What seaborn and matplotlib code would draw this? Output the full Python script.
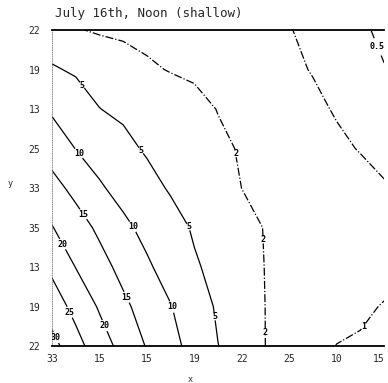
import numpy as np
import matplotlib
matplotlib.use("Agg")
import matplotlib.pyplot as plt
import seaborn as sns

# grid coordinates (half steps across, whole steps up)
x_vals = [0, 0.5, 1, 1.5, 2, 2.5, 3, 3.5, 4, 4.5, 5, 5.5, 6, 6.5, 7]
y_vals = [0, 1, 2, 3, 4, 5, 6, 7, 8]

# field values, bottom row first
row_0 = [31.7, 26.7, 22.3, 18.4, 14.7, 11.5, 8.3, 5.05, 3.5, 1.99, 1.66, 1.32, 0.98, 0.90, 0.80]
row_1 = [27.6, 23.5, 19.5, 16.0, 13.0, 10.2, 7.0, 4.5, 3.2, 1.98, 1.77, 1.56, 1.36, 1.15, 0.95]
row_2 = [24.0, 19.9, 16.7, 13.6, 10.7, 8.0, 5.4, 4.0, 2.85, 1.95, 1.85, 1.75, 1.60, 1.45, 1.30]
row_3 = [20.2, 17.1, 14.1, 11.1, 8.6, 6.4, 4.6, 3.6, 2.5, 1.93, 1.80, 1.70, 1.50, 1.35, 1.20]
row_4 = [16.6, 13.7, 10.6, 8.3, 6.2, 4.64, 3.7, 2.83, 1.99, 1.83, 1.67, 1.50, 1.35, 1.20, 1.03]
row_5 = [13.0, 9.9, 7.9, 5.9, 4.6, 3.8, 3.05, 2.28, 1.88, 1.69, 1.50, 1.31, 1.11, 0.97, 0.90]
row_6 = [9.3, 7.2, 5.05, 4.4, 3.75, 3.1, 2.47, 1.95, 1.74, 1.53, 1.33, 1.12, 0.95, 0.87, 0.80]
row_7 = [5.4, 4.5, 3.76, 3.0, 2.27, 1.9, 1.74, 1.58, 1.43, 1.27, 1.11, 0.97, 0.85, 0.70, 0.52]
row_8 = [2.6, 2.15, 1.75, 1.6, 1.5, 1.42, 1.34, 1.26, 1.18, 1.10, 1.02, 0.89, 0.77, 0.58, 0.40]

levels = [0.5, 1, 2, 5, 10, 15, 20, 25, 30]

x_ticks = [0, 1, 2, 3, 4, 5, 6, 7]
x_labels = ["33", "15", "15", "19", "22", "25", "10", "15"]
y_labels = ["22", "19", "13", "35", "33", "25", "13", "19", "22"]  # bottom to top

# where the contour labels sit
label_spots = [(0.59, 6.56), (1.81, 4.89), (2.85, 2.99), (3.39, 0.73),
               (0.65, 4.96), (1.69, 3.01), (2.53, 0.99),
               (0.70, 3.37), (1.58, 1.24),
               (0.27, 2.61), (1.14, 0.53),
               (0.38, 0.86), (0.06, 0.2),
               (3.73, 4.84), (4.32, 2.68), (4.45, 0.35),
               (6.75, 7.54), (6.39, 0.66)]

z = np.array([row_0, row_1, row_2, row_3, row_4, row_5, row_6, row_7, row_8])

sns.set_style("white")
plt.rcParams["font.family"] = ["DejaVu Sans Mono", "DejaVu Sans"]

fig = plt.figure(figsize=(3.88, 3.83), dpi=100)
ax = fig.add_axes([0.134, 0.0966, 0.856, 0.825])

styles = ["dashdot" if lv < 3 else "solid" for lv in levels]
cs = ax.contour(x_vals, y_vals, z, levels=levels, colors="black",
                linewidths=0.9, linestyles=styles)
texts = ax.clabel(cs, fmt="%g", fontsize=6, inline=True, inline_spacing=1,
                  manual=label_spots)
for t in texts:
    t.set_rotation(0)
    t.set_fontweight("bold")

ax.set_xlim(0, 7)
ax.set_ylim(0, 8)
ax.set_xticks(x_ticks)
ax.set_xticklabels(x_labels, fontsize=7)
ax.get_xticklabels()[-1].set_horizontalalignment("right")
ax.set_yticks(y_vals)
ax.set_yticklabels(y_labels, fontsize=7)
ax.tick_params(axis="y", direction="out", length=1.5, width=1.5, pad=7)
ax.tick_params(axis="x", length=0, pad=6)

for side in ["top", "bottom"]:
    ax.spines[side].set_linewidth(1.3)
    ax.spines[side].set_color("black")
ax.spines["left"].set_linestyle(":")
ax.spines["left"].set_linewidth(0.6)
ax.spines["left"].set_color("gray")
ax.spines["right"].set_visible(False)

ax.set_xlabel("x", fontsize=6)
ax.xaxis.set_label_coords(0.416, -0.092)
ax.set_ylabel("y", fontsize=6, rotation=0)
ax.yaxis.set_label_coords(-0.127, 0.5)
fig.text(0.142, 0.955, "July 16th, Noon (shallow)", fontsize=9, ha="left")

fig.savefig("out.png", dpi=100)
